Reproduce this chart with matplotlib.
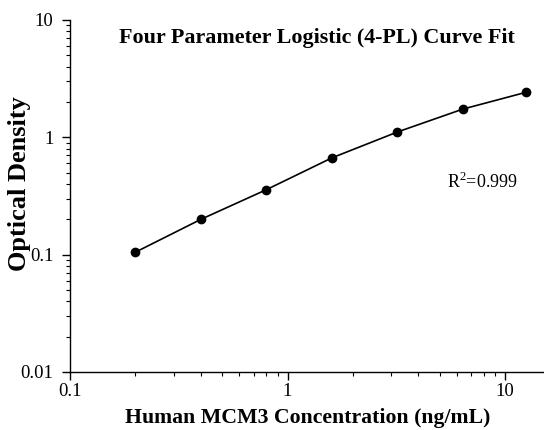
import numpy as np
import matplotlib.pyplot as plt
from matplotlib.ticker import FixedLocator, FixedFormatter, LogLocator, NullFormatter

# standard curve values
conc = [0.2, 0.4, 0.8, 1.6, 3.2, 6.4, 12.5]
od = [0.105, 0.200, 0.358, 0.668, 1.11, 1.74, 2.42]

plt.rcParams['font.family'] = ['Liberation Serif', 'DejaVu Serif']
plt.rcParams['mathtext.fontset'] = 'custom'
plt.rcParams['mathtext.rm'] = 'Liberation Serif'

fig = plt.figure(figsize=(5.44, 4.30), dpi=100)
ax = fig.add_axes([0.1287, 0.135, 0.87, 0.8185])

ax.plot(conc, od, color='black', lw=1.2, zorder=2)
ax.plot(conc, od, 'o', color='black', ms=6, zorder=3)

ax.set_xscale('log')
ax.set_yscale('log')
ax.set_xlim(0.1, 15)
ax.set_ylim(0.01, 10)

ax.xaxis.set_major_locator(FixedLocator([0.1, 1, 10]))
ax.xaxis.set_major_formatter(FixedFormatter(['0.1', '1', '10']))
ax.yaxis.set_major_locator(FixedLocator([0.01, 0.1, 1, 10]))
ax.yaxis.set_major_formatter(FixedFormatter(['0.01', '0.1', '1', '10']))
ax.xaxis.set_minor_locator(LogLocator(base=10, subs=np.arange(2, 10)))
ax.yaxis.set_minor_locator(LogLocator(base=10, subs=np.arange(2, 10)))
ax.xaxis.set_minor_formatter(NullFormatter())
ax.yaxis.set_minor_formatter(NullFormatter())

ax.spines['top'].set_visible(False)
ax.spines['right'].set_visible(False)
for s in ['left', 'bottom']:
    ax.spines[s].set_linewidth(1.0)
ax.tick_params(which='major', direction='out', length=6, width=1, labelsize=13.5, pad=2)
ax.tick_params(axis='y', which='major', pad=6)
ax.tick_params(which='minor', direction='out', length=3, width=0.8)

ax.set_xlabel('Human MCM3 Concentration (ng/mL)', fontsize=15.7, fontweight='bold')
ax.xaxis.set_label_coords(0.502, -0.131)
ax.xaxis.label.set_va('center')
ax.set_ylabel('Optical Density', fontsize=19, fontweight='bold')
ax.yaxis.set_label_coords(-0.106, 0.534)
ax.yaxis.label.set_va('center')

fig.text(0.583, 0.912, 'Four Parameter Logistic (4-PL) Curve Fit', fontsize=15.8,
         fontweight='bold', ha='center', va='center')
fig.text(0.822, 0.578, 'R$^2$=0.999', fontsize=13, ha='left', va='center')

fig.savefig('out.png', dpi=100)
